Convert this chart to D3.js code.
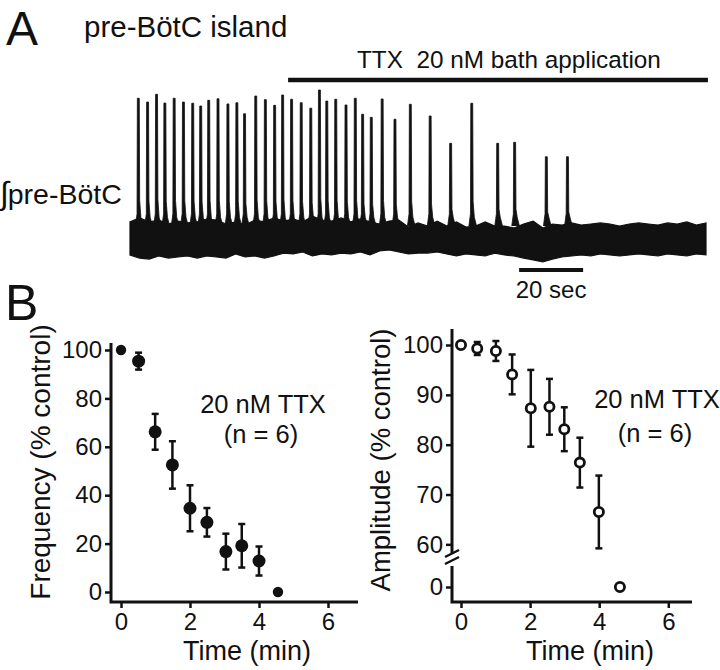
<!DOCTYPE html>
<html>
<head>
<meta charset="utf-8">
<script src="https://d3js.org/d3.v7.min.js"></script>
<style>
    body { margin: 0; background: #fff; }
    svg text { font-family: "Liberation Sans", Arial, Helvetica, sans-serif; fill: #111; }
</style>
</head>
<body>
<div id="chartContainer"></div>
<script>

// ---- panel A: integrated pre-BotC trace ----
// burst times (sec) and peak heights (a.u.)
var burstTimes = [2.6, 5.5, 8.3, 10.9, 13.8, 16.7, 19.6, 22.1, 24.6, 27.5, 30.6, 33.4, 35.8,
    39.3, 42.3, 45.2, 47.7, 50.5, 53.5, 56.5, 59.2, 61.5, 64.3, 67.5, 70.4, 72.7, 75.4,
    78.8, 82.8, 87.6, 93.8, 100.2, 106.8, 114.9, 120.2, 130.1, 136.7];
var burstPeaks = [95.2, 93.0, 97.5, 92.4, 95.2, 93.0, 92.3, 90.7, 94.0, 94.9, 91.9, 92.6, 86.2,
    96.5, 94.4, 91.1, 97.1, 94.6, 92.6, 89.4, 100, 93.6, 94.6, 91.3, 95.2, 85.9, 84.1,
    94.8, 83.0, 91.7, 84.9, 69.0, 92.3, 69.0, 69.6, 61.2, 61.2];

// envelope of the baseline noise, sampled every 3 sec
var sampleSec = [0, 3, 6, 9, 12, 15, 18, 21, 24, 27, 30, 33, 36, 39, 42, 45, 48, 51, 54, 57,
    60, 63, 66, 69, 72, 75, 78, 81, 84, 87, 90, 93, 96, 99, 102, 105, 108, 111, 114, 117,
    120, 123, 126, 129, 132, 135, 138, 141, 144, 147, 150, 153, 156, 159, 162, 165, 168, 171,
    174, 177, 180];
var noiseTop = [23.3, 25.6, 23.3, 24.4, 22.1, 23.8, 22.7, 23.3, 25.0, 24.4, 22.1, 23.3, 21.5,
    24.4, 23.3, 25.6, 23.8, 25.0, 23.3, 26.7, 24.4, 23.8, 25.6, 23.3, 25.0, 23.3, 22.1, 23.8,
    24.4, 20.3, 22.7, 20.9, 23.8, 20.9, 23.3, 20.3, 20.9, 23.3, 20.9, 20.9, 19.8, 22.1, 23.8,
    19.8, 22.1, 21.5, 22.7, 21.5, 22.1, 22.7, 22.1, 20.9, 22.1, 22.7, 22.1, 21.5, 22.7, 22.1,
    23.3, 21.5, 22.7];
var noiseBottom = [4.1, 2.3, 1.7, 3.5, 2.3, 2.9, 3.5, 2.3, 3.5, 2.9, 2.3, 4.7, 2.9, 3.5, 2.3,
    3.5, 5.2, 4.7, 5.8, 3.5, 4.7, 4.1, 5.2, 4.7, 5.8, 4.1, 6.4, 7.0, 5.8, 4.7, 5.2, 5.2, 5.8,
    4.7, 3.5, 4.7, 4.1, 3.5, 5.2, 4.1, 3.5, 2.3, 1.2, 0, 1.7, 2.9, 3.5, 4.1, 3.5, 4.7, 4.1,
    3.5, 4.1, 4.7, 4.1, 3.5, 4.7, 4.1, 3.5, 4.7, 4.1];

var ttxStart = 49.4, ttxEnd = 180.6;   // sec
var scaleBarStart = 121.6, scaleBarLen = 20;

// ---- panel B ----
var freqTime = [0, 0.51, 0.99, 1.49, 2.0, 2.49, 3.04, 3.5, 4.0, 4.55];
var freqMean = [100, 95.4, 66.2, 52.5, 34.6, 28.8, 16.7, 19.1, 12.8, 0];
var freqSem  = [0, 3.5, 7.4, 9.8, 9.5, 5.9, 7.4, 9.0, 6.0, 0];

var ampTime = [0, 0.47, 1.01, 1.48, 2.02, 2.56, 2.99, 3.44, 3.99, 4.6];
var ampMean = [100, 99.3, 98.8, 94.1, 87.3, 87.6, 83.1, 76.4, 66.5, 0];
var ampSem  = [0, 1.3, 2.0, 4.0, 7.7, 5.6, 4.4, 5.0, 7.3, 0];

var timeTicks = [0, 2, 4, 6];
var freqTicks = [0, 20, 40, 60, 80, 100];
var ampTicks = [0, 60, 70, 80, 90, 100];

//canvas
var svg = d3.select("#chartContainer")
    .append("svg")
    .attr("width", 720)
    .attr("height", 670);

//panel letters and titles
svg.append("text").attr("x", 6).attr("y", 45).style("font-size", "48px").text("A");
svg.append("text").attr("x", 84).attr("y", 37).style("font-size", "29.5px").text("pre-BötC island");
svg.append("text").attr("x", 357).attr("y", 68).style("font-size", "24.3px")
    .style("white-space", "pre").text("TTX  20 nM bath application");
svg.append("text").attr("x", 5).attr("y", 320).style("font-size", "50px").text("B");

var trLabel = svg.append("text").attr("x", 0).attr("y", 204).style("font-size", "28.5px");
trLabel.append("tspan").style("font-style", "italic").style("font-size", "32px").text("∫");
trLabel.append("tspan").attr("dx", -1).text("pre-BötC");

/* trace scales */
var xT = d3.scaleLinear().domain([0, 181.25]).range([130, 710]);
var yT = d3.scaleLinear().domain([0, 100]).range([262, 90]);

// TTX bar
svg.append("line")
    .attr("x1", xT(ttxStart)).attr("x2", xT(ttxEnd))
    .attr("y1", 80).attr("y2", 80)
    .attr("stroke", "#111").attr("stroke-width", 4.5);

// noise band
var band = d3.area()
    .x(function(d, i) { return xT(sampleSec[i]); })
    .y0(function(d, i) { return yT(noiseBottom[i]); })
    .y1(function(d, i) { return yT(noiseTop[i]); });

svg.append("path")
    .datum(sampleSec)
    .attr("d", band)
    .attr("fill", "#111")
    .attr("stroke", "#111")
    .attr("stroke-width", 1.2)
    .attr("stroke-linejoin", "miter");

// bursts: thin fast-rising spikes
var spikeLine = d3.line()
    .x(function(p) { return xT(p[0]); })
    .y(function(p) { return yT(p[1]); });

var base = 21;
var bursts = burstTimes.map(function(t, i) {
    var pk = burstPeaks[i];
    return [[t - 0.9, base], [t - 0.4, base + 7], [t - 0.3, pk],
            [t + 0.3, pk], [t + 0.42, base + (pk - base) * 0.2],
            [t + 0.8, base + 5], [t + 1.5, base]];
});

svg.append("g")
    .selectAll("path")
    .data(bursts)
    .enter().append("path")
    .attr("d", spikeLine)
    .attr("fill", "#111")
    .attr("stroke", "#111")
    .attr("stroke-width", 0.8);

// 20 sec scale bar
svg.append("line")
    .attr("x1", xT(scaleBarStart)).attr("x2", xT(scaleBarStart + scaleBarLen))
    .attr("y1", 270).attr("y2", 270)
    .attr("stroke", "#111").attr("stroke-width", 4);
svg.append("text")
    .attr("x", xT(scaleBarStart + scaleBarLen / 2)).attr("y", 298)
    .attr("text-anchor", "middle").style("font-size", "24px").text("20 sec");

///styling helper for the axes
function styleAxis(g, fs) {
    g.select(".domain").remove();
    g.selectAll(".tick line").attr("stroke", "#111").attr("stroke-width", 2.5);
    g.selectAll(".tick text").style("font-size", fs).attr("fill", "#111")
        .style("font-family", "'Liberation Sans', Arial, sans-serif");
}

function errorBars(g, xs, ys, ts, ms, es) {
    var idx = d3.range(ts.length).filter(function(i) { return es[i] > 0; });
    var eb = g.append("g").selectAll("g").data(idx).enter().append("g")
        .attr("stroke", "#111").attr("stroke-width", 2.5);
    eb.append("line")
        .attr("x1", function(i) { return xs(ts[i]); })
        .attr("x2", function(i) { return xs(ts[i]); })
        .attr("y1", function(i) { return ys(ms[i] - es[i]); })
        .attr("y2", function(i) { return ys(ms[i] + es[i]); });
    [-1, 1].forEach(function(s) {
        eb.append("line")
            .attr("x1", function(i) { return xs(ts[i]) - 3.5; })
            .attr("x2", function(i) { return xs(ts[i]) + 3.5; })
            .attr("y1", function(i) { return ys(ms[i] + s * es[i]); })
            .attr("y2", function(i) { return ys(ms[i] + s * es[i]); });
    });
}

var fmt = d3.format("d");

// ---- left: frequency ----
var x1 = d3.scaleLinear().domain([0, 6]).range([121, 328]);
var y1 = d3.scaleLinear().domain([0, 100]).range([592, 350]);

var gl = svg.append("g");
gl.append("path")
    .attr("d", "M111,343V602H358")
    .attr("fill", "none").attr("stroke", "#111").attr("stroke-width", 3);
gl.append("g").attr("transform", "translate(111,0)")
    .call(d3.axisLeft(y1).tickValues(freqTicks).tickFormat(fmt).tickSize(6).tickPadding(3))
    .call(styleAxis, "24px");
gl.append("g").attr("transform", "translate(0,602)")
    .call(d3.axisBottom(x1).tickValues(timeTicks).tickFormat(fmt).tickSize(6).tickPadding(5))
    .call(styleAxis, "24px");

errorBars(gl, x1, y1, freqTime, freqMean, freqSem);
gl.append("g").selectAll("circle")
    .data(freqTime)
    .enter().append("circle")
    .attr("cx", function(d) { return x1(d); })
    .attr("cy", function(d, i) { return y1(freqMean[i]); })
    .attr("r", function(d, i) { return freqSem[i] > 0 ? 6.5 : 5.2; })
    .attr("fill", "#111");

gl.append("text").attr("transform", "translate(50,462) rotate(-90)")
    .attr("text-anchor", "middle").style("font-size", "28px").text("Frequency (% control)");
gl.append("text").attr("x", 247).attr("y", 660)
    .attr("text-anchor", "middle").style("font-size", "27px").text("Time (min)");
gl.append("text").attr("x", 263).attr("y", 413)
    .attr("text-anchor", "middle").style("font-size", "25.5px").text("20 nM TTX");
gl.append("text").attr("x", 261).attr("y", 443)
    .attr("text-anchor", "middle").style("font-size", "25.5px").text("(n = 6)");

// ---- right: amplitude (broken axis) ----
var x2 = d3.scaleLinear().domain([0, 6]).range([461, 668.3]);
var y2 = d3.scaleLinear().domain([0, 57, 100]).range([587, 559.3, 345]);

var gr = svg.append("g");
gr.append("path")
    .attr("d", "M452,329V554M452,566V602H692")
    .attr("fill", "none").attr("stroke", "#111").attr("stroke-width", 3);
// break marks
gr.append("path")
    .attr("d", "M445,557L459,550M445,564L459,557")
    .attr("fill", "none").attr("stroke", "#111").attr("stroke-width", 2.5);
gr.append("g").attr("transform", "translate(452,0)")
    .call(d3.axisLeft(y2).tickValues(ampTicks).tickFormat(fmt).tickSize(6).tickPadding(3))
    .call(styleAxis, "24px");
gr.append("g").attr("transform", "translate(0,602)")
    .call(d3.axisBottom(x2).tickValues(timeTicks).tickFormat(fmt).tickSize(6).tickPadding(5))
    .call(styleAxis, "24px");

errorBars(gr, x2, y2, ampTime, ampMean, ampSem);
gr.append("g").selectAll("circle")
    .data(ampTime)
    .enter().append("circle")
    .attr("cx", function(d) { return x2(d); })
    .attr("cy", function(d, i) { return y2(ampMean[i]); })
    .attr("r", 4.6)
    .attr("fill", "#fff")
    .attr("stroke", "#111")
    .attr("stroke-width", 2.8);

gr.append("text").attr("transform", "translate(390,460) rotate(-90)")
    .attr("text-anchor", "middle").style("font-size", "27.5px").text("Amplitude (% control)");
gr.append("text").attr("x", 590).attr("y", 660)
    .attr("text-anchor", "middle").style("font-size", "27px").text("Time (min)");
gr.append("text").attr("x", 657).attr("y", 408)
    .attr("text-anchor", "middle").style("font-size", "25.5px").text("20 nM TTX");
gr.append("text").attr("x", 655).attr("y", 442)
    .attr("text-anchor", "middle").style("font-size", "25.5px").text("(n = 6)");

</script>
</body>
</html>
